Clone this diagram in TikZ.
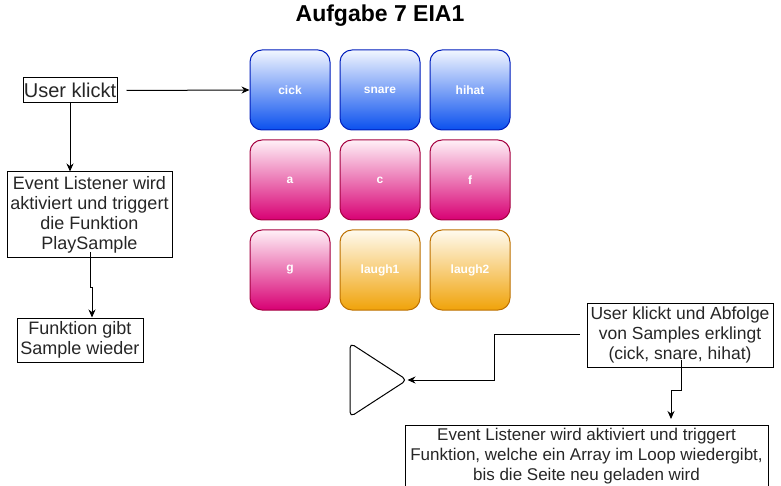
\documentclass[tikz,border=0pt]{standalone}
\usepackage{fontspec}
\setmainfont{Liberation Sans}
\usetikzlibrary{arrows.meta,calc}
\definecolor{bluetop}{HTML}{F2F6FF}
\definecolor{bluebot}{HTML}{0A50EE}
\definecolor{bluestroke}{HTML}{001DBC}
\definecolor{pinktop}{HTML}{FFF0F7}
\definecolor{pinkbot}{HTML}{D80073}
\definecolor{pinkstroke}{HTML}{A50040}
\definecolor{orgtop}{HTML}{FFFAEE}
\definecolor{orgbot}{HTML}{F0A30A}
\definecolor{orgstroke}{HTML}{BD7000}
\tikzset{
  pad/.style={rounded corners=12pt, minimum width=80pt, minimum height=80pt,
    line width=1pt, text=white, font=\bfseries\fontsize{12}{14}\selectfont, inner sep=0pt},
  bluepad/.style={pad, draw=bluestroke, top color=bluetop, bottom color=bluebot},
  pinkpad/.style={pad, draw=pinkstroke, top color=pinktop, bottom color=pinkbot},
  orgpad/.style={pad, draw=orgstroke, top color=orgtop, bottom color=orgbot},
  txtbox/.style={draw, line width=1pt, inner sep=0pt, align=center,
    font=\fontsize{18}{20}\selectfont, text=black!85},
  arr/.style={line width=1pt, -{Stealth[length=8pt,width=7pt]}},
}
\begin{document}
\begin{tikzpicture}[x=1pt,y=-1pt]
\useasboundingbox (0,0) rectangle (781,486);
\clip (0,0) rectangle (781,486);
\node[font=\bfseries\fontsize{23}{26}\selectfont] (title) at (380,16) {Aufgabe 7 EIA1};
% pads
\node[bluepad] (cick) at (290,90) {cick};
\node[bluepad] (snare) at (380,90) {snare};
\node[bluepad] (hihat) at (470,90) {hihat};
\node[pinkpad] (a) at (290,180) {a};
\node[pinkpad] (c) at (380,180) {c};
\node[pinkpad] (f) at (470,180) {f};
\node[pinkpad] (g) at (290,270) {g};
\node[orgpad] (laugh1) at (380,270) {laugh1};
\node[orgpad] (laugh2) at (470,270) {laugh2};
% left flow
\node[txtbox, minimum width=94pt, minimum height=25pt, font=\fontsize{20}{22}\selectfont] (uk) at (70,90.5) {User klickt};
\node[txtbox, minimum width=165pt, minimum height=85pt] (ev) at (89.5,214.5) {Event Listener wird\\aktiviert und triggert\\die Funktion\\PlaySample};
\node[txtbox, minimum width=126pt, minimum height=44pt] (funk) at (80,340) {Funktion gibt\\Sample wieder};
\draw[arr] ([xshift=9pt]uk.east) -- (cick.west);
\draw[arr] (uk.south) -- (uk.south |- ev.north);
\draw[arr] ([xshift=1.2pt,yshift=5pt]ev.south) -- ++(0,35) -- ++(1.3,0) -- ([xshift=12pt]funk.north);
% triangle
\draw[line width=1pt, rounded corners=5pt] (350,343) -- (407,380) -- (350,417) -- cycle;
\coordinate (tri) at (407.5,380);
% right flow
\node[txtbox, minimum width=186pt, minimum height=64pt, font=\fontsize{17.5}{20}\selectfont] (ab) at (680,335) {User klickt und Abfolge\\von Samples erklingt\\(cick, snare, hihat)};
\node[draw, line width=1pt, minimum width=363pt, minimum height=80pt, anchor=north] (ev2) at (586.5,425) {};
\node[align=center, font=\fontsize{17}{20}\selectfont, text=black!85, anchor=north, inner sep=0pt] (ev2t) at ([yshift=-2.5pt]ev2.north) {Event Listener wird aktiviert und triggert\\Funktion, welche ein Array im Loop wiedergibt,\\bis die Seite neu geladen wird};
\draw[arr] ([xshift=-7pt,yshift=1pt]ab.west) -- ++(-85,0) |- (tri);
\draw[arr] ([xshift=1pt,yshift=8pt]ab.south) -- ++(0,31) -- ++(-10,0) -- ([xshift=84.5pt,yshift=6pt]ev2.north);
\end{tikzpicture}
\end{document}
